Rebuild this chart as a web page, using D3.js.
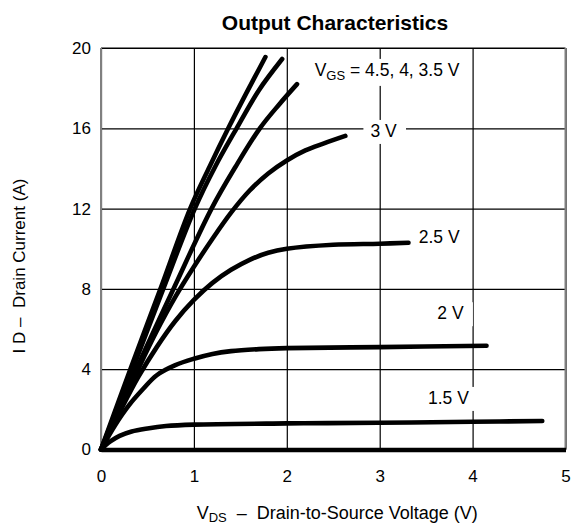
<!DOCTYPE html>
<html>
<head>
<meta charset="utf-8">
<script src="https://cdn.jsdelivr.net/npm/d3@7"></script>
<style>
  body { margin: 0; background: #fff; }
  text { font-family: "Liberation Sans", Arial, sans-serif; fill: #000; }
</style>
</head>
<body>
<div id="chart"></div>
<script>
// Chart data (VDS in V, ID in A)
var vgsLabels = ["4.5 V", "4 V", "3.5 V", "3 V", "2.5 V", "2 V", "1.5 V"];

var vds45 = [0, 0.32, 0.64, 0.96, 1.17, 1.37, 1.57, 1.77];
var id45  = [0, 4.05, 8.0, 12.0, 14.1, 16.0, 17.8, 19.55];

var vds40 = [0, 0.34, 0.67, 1.01, 1.23, 1.46, 1.7, 1.95];
var id40  = [0, 4.0, 8.0, 12.0, 14.1, 16.0, 17.9, 19.45];

var vds35 = [0, 0.38, 0.78, 1.19, 1.45, 1.71, 1.92, 2.11];
var id35  = [0, 4.0, 8.0, 12.0, 14.1, 16.0, 17.2, 18.2];

var vds30 = [0, 0.2, 0.4, 0.6, 0.8, 1.0, 1.2, 1.4, 1.6, 1.8, 2.0, 2.2, 2.4, 2.63];
var id30  = [0, 2.0, 4.0, 5.9, 7.6, 9.1, 10.5, 11.8, 12.9, 13.75, 14.4, 14.9, 15.25, 15.62];

var vds25 = [0, 0.2, 0.4, 0.6, 0.8, 1.0, 1.2, 1.4, 1.6, 1.8, 2.0, 2.5, 3.0, 3.31];
var id25  = [0, 1.85, 3.6, 5.1, 6.4, 7.45, 8.3, 8.95, 9.45, 9.8, 10.0, 10.2, 10.25, 10.3];

var vds20 = [0, 0.15, 0.3, 0.45, 0.6, 0.8, 1.0, 1.2, 1.4, 1.7, 2.0, 3.0, 4.15];
var id20  = [0, 1.2, 2.2, 3.0, 3.7, 4.2, 4.52, 4.76, 4.9, 5.0, 5.05, 5.1, 5.17];

var vds15 = [0, 0.1, 0.2, 0.33, 0.5, 0.7, 1.0, 2.0, 3.0, 4.0, 4.75];
var id15  = [0, 0.4, 0.68, 0.9, 1.05, 1.17, 1.24, 1.3, 1.33, 1.38, 1.42];

var xTicks = [0, 1, 2, 3, 4, 5];
var yTicks = [0, 4, 8, 12, 16, 20];

// Curve labels: [text, VDS, ID] where the text starts, in data units
var curveNotes = [
  ["3 V", 2.9, 15.57],
  ["2.5 V", 3.42, 10.3],
  ["2 V", 3.62, 6.49],
  ["1.5 V", 3.52, 2.27]
];

var svgWidth = 571;
var svgHeight = 527;
var margin = { top: 48, right: 5.5, bottom: 77.5, left: 101 };
var chartWidth = svgWidth - margin.left - margin.right;
var chartHeight = svgHeight - margin.top - margin.bottom;

var svg = d3.select("#chart")
  .append("svg")
  .attr("width", svgWidth)
  .attr("height", svgHeight);

var chartGroup = svg.append("g")
  .attr("transform", `translate(${margin.left}, ${margin.top})`);

var xScale = d3.scaleLinear().domain([0, 5]).range([0, chartWidth]);
var yScale = d3.scaleLinear().domain([0, 20]).range([chartHeight, 0]);

// grid
chartGroup.append("g")
  .attr("transform", `translate(0, ${chartHeight})`)
  .call(d3.axisBottom(xScale).tickValues(xTicks).tickSize(-chartHeight).tickFormat(""))
  .call(g => g.select(".domain").remove())
  .selectAll("line").attr("stroke", "#000").attr("stroke-width", 1.2);

chartGroup.append("g")
  .call(d3.axisLeft(yScale).tickValues(yTicks).tickSize(-chartWidth).tickFormat(""))
  .call(g => g.select(".domain").remove())
  .selectAll("line").attr("stroke", "#000").attr("stroke-width", 1.2);

// frame
chartGroup.append("line")
  .attr("x1", 0).attr("x2", chartWidth).attr("y1", 0).attr("y2", 0)
  .attr("stroke", "#000").attr("stroke-width", 1.2);
chartGroup.append("line")
  .attr("x1", 0).attr("x2", 0).attr("y1", 0).attr("y2", chartHeight)
  .attr("stroke", "#808080").attr("stroke-width", 2);
chartGroup.append("line")
  .attr("x1", chartWidth).attr("x2", chartWidth).attr("y1", 0).attr("y2", chartHeight)
  .attr("stroke", "#808080").attr("stroke-width", 2);

// labels with white boxes behind them
function boxedText(g, x, y, build) {
  var t = g.append("text").attr("x", x).attr("y", y).style("font-size", "17.5px");
  build(t);
  var b = t.node().getBBox();
  g.insert("rect", function() { return t.node(); })
    .attr("x", b.x - 7).attr("y", b.y - 1)
    .attr("width", b.width + 16).attr("height", b.height + 4)
    .attr("fill", "#fff");
  return t;
}

var labelGroup = chartGroup.append("g");

boxedText(labelGroup, xScale(2.3), yScale(18.61), function(t) {
  t.append("tspan").text("V");
  t.append("tspan").attr("dy", 4).style("font-size", "13px").text("GS");
  t.append("tspan").attr("dy", -4).text(" = 4.5, 4, 3.5 V");
});

curveNotes.forEach(function(d) {
  boxedText(labelGroup, xScale(d[1]), yScale(d[2]), function(t) { t.text(d[0]); });
});

// curves
var curveData = [
  [vds45, id45], [vds40, id40], [vds35, id35], [vds30, id30],
  [vds25, id25], [vds20, id20], [vds15, id15]
];

var line = d3.line()
  .x(d => xScale(d[0]))
  .y(d => yScale(d[1]))
  .curve(d3.curveCatmullRom.alpha(0.5));

chartGroup.selectAll(".curve")
  .data(curveData)
  .enter()
  .append("path")
  .attr("class", "curve")
  .attr("d", d => line(d[0].map((v, i) => [v, d[1][i]])))
  .attr("fill", "none")
  .attr("stroke", "#000")
  .attr("stroke-width", 4.6)
  .attr("stroke-linecap", "round")
  .attr("stroke-linejoin", "round");

// axes (thick baseline at ID = 0)
var bottomAxis = chartGroup.append("g")
  .attr("transform", `translate(0, ${chartHeight})`)
  .call(d3.axisBottom(xScale).tickValues(xTicks).tickSize(0).tickPadding(20).tickFormat(d3.format("d")));
bottomAxis.select(".domain").attr("stroke", "#000").attr("stroke-width", 4.6);
bottomAxis.selectAll("text").style("font-size", "17px");

var leftAxis = chartGroup.append("g")
  .call(d3.axisLeft(yScale).tickValues(yTicks).tickSize(0).tickPadding(10).tickFormat(d3.format("d")));
leftAxis.select(".domain").remove();
leftAxis.selectAll("text").style("font-size", "17px");

// title and axis titles
svg.append("text")
  .attr("x", 335)
  .attr("y", 30)
  .attr("text-anchor", "middle")
  .style("font-size", "21px")
  .style("font-weight", "bold")
  .text("Output Characteristics");

var xTitle = svg.append("text")
  .attr("x", margin.left + chartWidth / 2 + 4)
  .attr("y", 519)
  .attr("text-anchor", "middle")
  .style("font-size", "18px");
xTitle.append("tspan").text("V");
xTitle.append("tspan").attr("dy", 3).style("font-size", "13px").text("DS");
xTitle.append("tspan").attr("dy", -3).attr("xml:space", "preserve").text("  \u2013  Drain-to-Source Voltage (V)");

svg.append("text")
  .attr("transform", "rotate(-90)")
  .attr("x", -266)
  .attr("y", 25)
  .attr("text-anchor", "middle")
  .attr("xml:space", "preserve")
  .style("font-size", "17px")
  .text("I D \u2013  Drain Current (A)");
</script>
</body>
</html>
